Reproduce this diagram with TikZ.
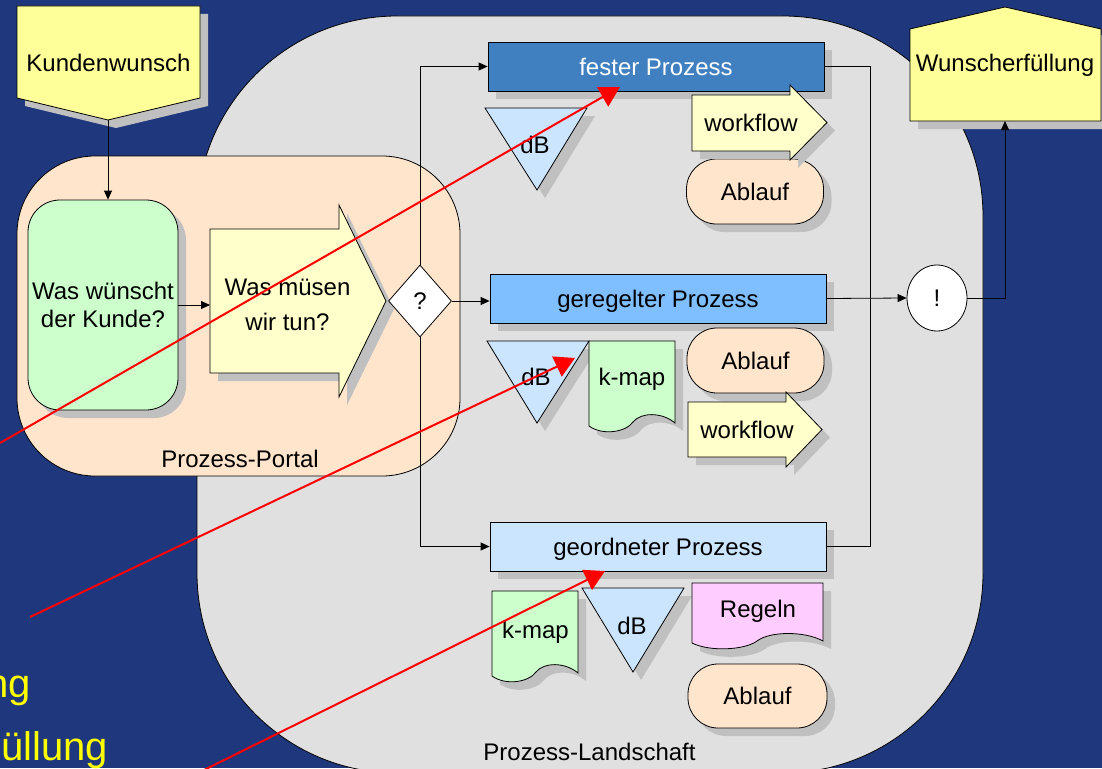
\documentclass[tikz,border=0pt]{standalone}
\usepackage{fontspec}
\setmainfont{Liberation Sans}
\usetikzlibrary{shapes.geometric,shadows,arrows.meta}

\definecolor{bgblue}{RGB}{31,55,125}
\definecolor{landgray}{RGB}{224,224,224}
\definecolor{portal}{RGB}{255,229,204}
\definecolor{softgreen}{RGB}{204,255,204}
\definecolor{wishyellow}{RGB}{255,255,153}
\definecolor{paleyellow}{RGB}{255,255,204}
\definecolor{fixblue}{RGB}{64,128,192}
\definecolor{ruleblue}{RGB}{128,191,255}
\definecolor{paleblue}{RGB}{204,229,255}
\definecolor{rosy}{RGB}{255,204,255}
\definecolor{shadowgray}{RGB}{192,192,192}
\definecolor{pointred}{RGB}{255,0,0}
\definecolor{textyellow}{RGB}{255,255,0}

\begin{document}
\begin{tikzpicture}[x=1pt,y=-1pt,
  every node/.style={font=\fontsize{24}{28}\selectfont, inner sep=0pt},
  lbl/.style={text height=17pt, text depth=0pt},
  outline/.style={draw=black, line width=0.8pt},
  dropsh/.style={drop shadow={shadow xshift=8pt, shadow yshift=-8pt, opacity=1, fill=shadowgray}},
  link/.style={draw=black, line width=0.8pt},
  arr/.style={link, -{Triangle[length=9pt,width=8pt]}},
  pointer/.style={draw=pointred, line width=2pt, -{Triangle[length=20pt,width=22pt]}},
  bar/.style={rectangle, outline, dropsh, lbl, minimum width=336pt, minimum height=49pt},
  stadium/.style={rectangle, outline, fill=portal, dropsh, lbl, rounded corners=30pt,
                  minimum width=137pt, minimum height=65pt},
  shapefill/.style={outline, dropsh, fill=#1},
  caption/.style={anchor=base east, text=textyellow, font=\fontsize{40}{48}\selectfont},
]
\useasboundingbox (0,0) rectangle (1102,768);
\fill[bgblue] (0,0) rectangle (1102,768);
\clip (0,0) rectangle (1102,768);

% process landscape and portal areas
\path[outline, fill=landgray, rounded corners=200pt] (197,16) rectangle (983,773);
\node[lbl] (landlbl) at (589.5,751.5) {Prozess-Landschaft};
\path[outline, fill=portal, rounded corners=78pt] (17,156) rectangle (460,476);
\node[lbl] (portallbl) at (240,458.5) {Prozess-Portal};

% customer request and fulfilment
\path[shapefill=wishyellow] (17,6) -- (200,6) -- (200,98) -- (108,120) -- (17,98) -- cycle;
\node[lbl] (kw) at (108.5,62.5) {Kundenwunsch};
\coordinate (kwtip) at (108,120);
\path[shapefill=wishyellow] (910,29) -- (1005,7) -- (1101,29) -- (1101,121) -- (910,121) -- cycle;
\node[lbl] (wf) at (1005,62.5) {Wunscherfüllung};
\coordinate (wfbase) at (1005,121);

% portal contents
\node[rectangle, outline, fill=softgreen, dropsh, rounded corners=32pt,
      minimum width=150pt, minimum height=210pt, align=center] (want) at (103,305)
      {Was wünscht\\der Kunde?};
\path[shapefill=paleyellow] (210,229) -- (339,229) -- (339,205) -- (386,301)
      -- (339,397) -- (339,373) -- (210,373) -- cycle;
\node[align=center, font=\fontsize{24}{35}\selectfont] (todo) at (287.5,305) {Was müsen\\wir tun?};
\coordinate (todoin) at (210,305);

\node[diamond, outline, fill=white, minimum width=63pt, minimum height=72pt, lbl] (q) at (420,301) {?};

% process bars
\node[bar, fill=fixblue, text=white] (fest) at (656,66.5) {fester Prozess};
\node[bar, fill=ruleblue] (gereg) at (658,298.5) {geregelter Prozess};
\node[bar, fill=paleblue] (geord) at (658,546.5) {geordneter Prozess};

\node[ellipse, outline, fill=white, minimum width=60pt, minimum height=66pt, lbl] (ex) at (937,298) {!};

% fixed process resources
\path[shapefill=paleblue] (485,108) -- (587,108) -- (537,190) -- cycle;
\node[lbl] (db1) at (535,145) {dB};
\node[stadium] (flow1) at (755,191.5) {Ablauf};
\path[shapefill=paleyellow] (692,95) -- (790,95) -- (790,85) -- (827,122.5)
      -- (790,160) -- (790,151) -- (692,151) -- cycle;
\node[lbl] (wf1) at (751,123) {workflow};

% regulated process resources
\path[shapefill=paleblue] (487,341) -- (589,341) -- (537,423) -- cycle;
\node[lbl] (db2) at (536,377) {dB};
\path[shapefill=softgreen] (589,341) -- (675,341) -- (675,423)
      .. controls (662,412) and (641,412) .. (633,422)
      .. controls (626,432) and (603,436) .. (589,426) -- cycle;
\node[lbl] (km1) at (632,377) {k-map};
\node[stadium] (flow2) at (755.5,360.5) {Ablauf};
\path[shapefill=paleyellow] (688,402) -- (786,402) -- (786,392) -- (822,429.5)
      -- (786,467) -- (786,457) -- (688,457) -- cycle;
\node[lbl] (wf2) at (747,429.5) {workflow};

% ordered process resources
\path[shapefill=softgreen] (492,591) -- (578,591) -- (578,673)
      .. controls (565,662) and (544,662) .. (536,672)
      .. controls (529,682) and (506,686) .. (492,676) -- cycle;
\node[lbl] (km2) at (535.5,629.5) {k-map};
\path[shapefill=paleblue] (582,588) -- (684,588) -- (633,672) -- cycle;
\node[lbl] (db3) at (632,626) {dB};
\path[shapefill=rosy] (692,583) -- (823,583) -- (823,641)
      .. controls (805,631) and (770,631) .. (757,641)
      .. controls (745,650) and (710,652) .. (692,643) -- cycle;
\node[lbl] (rules) at (758,609) {Regeln};
\node[stadium, minimum width=139pt, minimum height=64pt] (flow3) at (757.5,696) {Ablauf};

% flow connectors
\draw[arr] (kwtip) -- (kwtip |- want.north);
\draw[arr] (want.east) -- (todoin);
\draw[arr] (q.north) |- (fest.west);
\draw[arr] (q.south) |- (geord.west);
\draw[arr] (q.east) -- (q.east -| gereg.west);
\coordinate (merge) at (870,298);
\draw[link] (fest.east) -| (merge);
\draw[link] (geord.east) -| (merge);
\draw[arr] (gereg.east) -- (ex.west);
\draw[arr] (ex.east) -| (wfbase);

% captions at the lower left
\node[caption] (capa) at (31,697) {ng};
\node[caption] (capb) at (108,760) {üllung};

% red pointers
\coordinate (p1) at (0,443);
\coordinate (p2) at (30,617);
\coordinate (p3) at (190,777);
\coordinate (t1) at (620,87);
\coordinate (t2) at (575,358);
\coordinate (t3) at (605,571);
\draw[pointer] (p1) -- (t1);
\draw[pointer] (p2) -- (t2);
\draw[pointer] (p3) -- (t3);
\end{tikzpicture}
\end{document}
